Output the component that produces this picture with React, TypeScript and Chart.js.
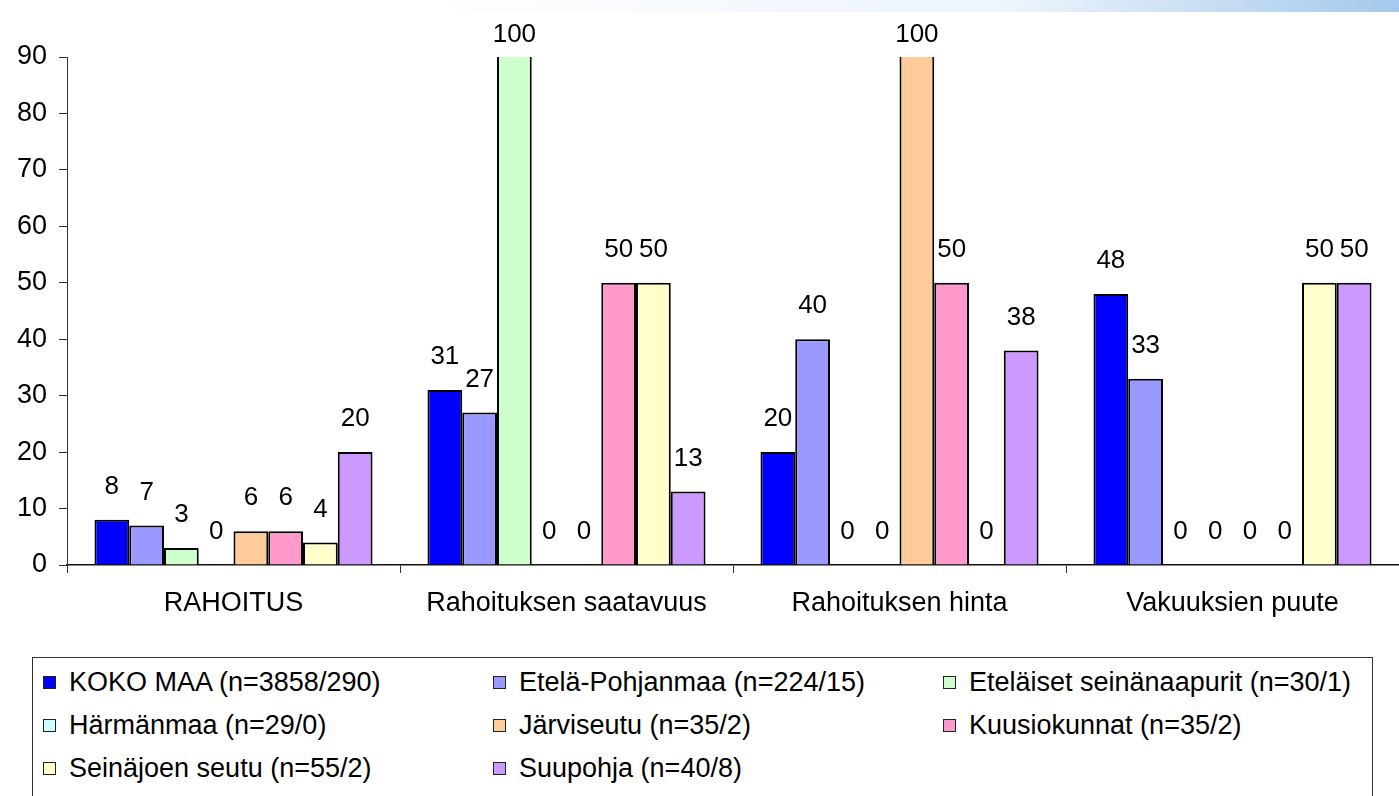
import React, { useEffect, useRef } from "react";
import { Chart, registerables } from "chart.js";

Chart.register(...registerables);

const categories = ["RAHOITUS", "Rahoituksen saatavuus", "Rahoituksen hinta", "Vakuuksien puute"];

const seriesNames = [
  "KOKO MAA (n=3858/290)",
  "Etelä-Pohjanmaa (n=224/15)",
  "Eteläiset seinänaapurit (n=30/1)",
  "Härmänmaa (n=29/0)",
  "Järviseutu (n=35/2)",
  "Kuusiokunnat (n=35/2)",
  "Seinäjoen seutu (n=55/2)",
  "Suupohja (n=40/8)",
];

const seriesColors = ["#0000FF", "#9999FF", "#CCFFCC", "#CCFFFF", "#FFCC99", "#FF99CC", "#FFFFCC", "#CC99FF"];

const kokoMaa = [8, 31, 20, 48];
const etelaPohjanmaa = [7, 27, 40, 33];
const etelaisetSeinanaapurit = [3, 100, 0, 0];
const harmanmaa = [0, 0, 0, 0];
const jarviseutu = [6, 0, 100, 0];
const kuusiokunnat = [6, 50, 50, 0];
const seinajoenSeutu = [4, 50, 0, 50];
const suupohja = [20, 13, 38, 50];

const seriesValues = [kokoMaa, etelaPohjanmaa, etelaisetSeinanaapurit, harmanmaa, jarviseutu, kuusiokunnat, seinajoenSeutu, suupohja];

const yMin = 0;
const yMax = 90;
const yStep = 10;

const FONT = "'Liberation Sans', Arial, sans-serif";

const valueLabels = {
  id: "valueLabels",
  afterDatasetsDraw(chart: any) {
    const ctx = chart.ctx;
    const area = chart.chartArea;
    ctx.save();
    ctx.font = `26px ${FONT}`;
    ctx.fillStyle = "#000";
    ctx.textAlign = "center";
    ctx.textBaseline = "middle";
    chart.data.datasets.forEach((ds: any, i: number) => {
      const meta = chart.getDatasetMeta(i);
      meta.data.forEach((el: any, j: number) => {
        const v = ds.data[j];
        const y = v > yMax ? area.top - 22 : el.y - 33;
        ctx.fillText(String(v), el.x, y);
      });
    });
    ctx.restore();
  },
};

export default function App() {
  const ref = useRef<HTMLCanvasElement | null>(null);

  useEffect(() => {
    if (!ref.current) return;
    const chart = new Chart(ref.current, {
      type: "bar",
      data: {
        labels: categories,
        datasets: seriesNames.map((name, i) => ({
          label: name,
          data: seriesValues[i],
          backgroundColor: seriesColors[i],
          borderColor: "#000",
          borderWidth: 2,
          categoryPercentage: 0.835,
          barPercentage: 1,
          clip: 0,
        })),
      },
      options: {
        responsive: false,
        maintainAspectRatio: false,
        animation: false,
        devicePixelRatio: 1,
        layout: { padding: { top: 57, left: 0, right: 0, bottom: 0 } },
        plugins: { legend: { display: false }, tooltip: { enabled: false } },
        scales: {
          x: {
            grid: { display: true, offset: true, drawOnChartArea: false, drawTicks: true, tickLength: 8, color: "#333", lineWidth: 1 },
            border: { display: true, color: "#111", width: 1.5 },
            ticks: { color: "#000", font: { family: FONT, size: 27 }, padding: 14 },
            afterFit: (scale: any) => {
              scale.height = 75;
            },
          },
          y: {
            min: yMin,
            max: yMax,
            grid: { display: true, drawOnChartArea: false, drawTicks: true, tickLength: 8, color: "#333", lineWidth: 1 },
            border: { display: true, color: "#333", width: 1 },
            ticks: { stepSize: yStep, color: "#000", font: { family: FONT, size: 27 }, padding: 12 },
            afterFit: (scale: any) => {
              scale.width = 67;
            },
          },
        },
      },
      plugins: [valueLabels],
    } as any);
    return () => chart.destroy();
  }, []);

  const colX = [43, 493, 943];
  const rowY = [682, 725, 768];

  return (
    <div style={{ position: "absolute", left: 0, top: 0, width: 1399, height: 796, overflow: "hidden", background: "#fff", fontFamily: FONT }}>
      <canvas ref={ref} width={1399} height={640} style={{ position: "absolute", left: 0, top: 0, width: 1399, height: 640 }} />
      <div
        style={{
          position: "absolute",
          left: 0,
          top: 0,
          width: 1399,
          height: 12,
          background: "linear-gradient(to right, rgba(255,255,255,0) 30%, #f4f8fd 55%, #eef4fb 72%, #a4c9ec 100%)",
        }}
      />
      <div
        style={{
          position: "absolute",
          left: 32,
          top: 657,
          width: 1341,
          height: 200,
          border: "1.5px solid #333",
          boxSizing: "border-box",
        }}
      />
      {seriesNames.map((name, i) => {
        const cx = colX[i % 3];
        const cy = rowY[Math.floor(i / 3)];
        return (
          <React.Fragment key={name}>
            <div
              style={{
                position: "absolute",
                left: cx,
                top: cy - 6,
                width: 13,
                height: 13,
                boxSizing: "border-box",
                border: "1.5px solid #222",
                background: seriesColors[i],
              }}
            />
            <div
              style={{
                position: "absolute",
                left: cx + 26,
                top: cy - 16,
                height: 32,
                lineHeight: "32px",
                fontSize: 27,
                color: "#000",
                whiteSpace: "nowrap",
              }}
            >
              {name}
            </div>
          </React.Fragment>
        );
      })}
    </div>
  );
}
